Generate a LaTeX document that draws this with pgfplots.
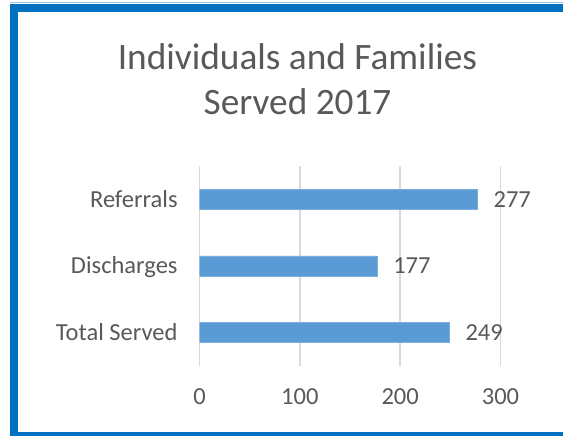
\documentclass[border=0pt]{standalone}
\usepackage{pgfplots}
\pgfplotsset{compat=1.18}
\usepackage{fontspec}
\setmainfont{Carlito}
\definecolor{barblue}{HTML}{5B9BD5}
\definecolor{frameblue}{HTML}{0070C0}
\definecolor{txtgray}{HTML}{595959}
\definecolor{gridgray}{HTML}{D9D9D9}
\begin{document}
\begin{tikzpicture}
\useasboundingbox (0,0) rectangle (563bp,436bp);
\fill[white] (0,0) rectangle (563bp,436bp);
% frame
\draw[frameblue!40, line width=1bp] (10bp,433bp) -- (600bp,433bp);
\draw[frameblue, line width=8bp] (600bp,427.6bp) -- (13.75bp,427.6bp) -- (13.75bp,0.3bp) -- (600bp,0.3bp);
\node[anchor=base, text=txtgray, font=\fontsize{37.3bp}{40bp}\selectfont, inner sep=0pt] at (297.5bp,366bp) {Individuals and Families};
\node[anchor=base, text=txtgray, font=\fontsize{37.3bp}{40bp}\selectfont, inner sep=0pt] at (297.5bp,321bp) {Served 2017};
\begin{axis}[
  at={(199.5bp,70bp)}, anchor=south west,
  scale only axis, width=301bp, height=200bp,
  xbar, bar width=20bp,
  xmin=0, xmax=300, ymin=-0.5, ymax=2.5,
  xtick={0,100,200,300},
  ytick={0,1,2},
  yticklabels={Total Served,Discharges,Referrals},
  xmajorgrids, major grid style={gridgray, line width=1.4bp},
  axis line style={draw=none},
  tick style={draw=none},
  /pgf/number format/assume math mode=true,
  tick label style={text=txtgray, font=\fontsize{24.5bp}{28bp}\selectfont, inner sep=0pt},
  xticklabel style={anchor=north, yshift=-22bp},
  yticklabel style={anchor=base east, xshift=-17.5bp, yshift=-8bp},
  nodes near coords,
  every node near coord/.append style={anchor=base west, xshift=16bp, yshift=-8bp, inner sep=0pt, text=txtgray, font=\fontsize{24.5bp}{28bp}\selectfont},
]
\addplot[fill=barblue, draw=barblue!80!white] coordinates {(249,0) (177,1) (277,2)};
\end{axis}
\end{tikzpicture}
\end{document}
